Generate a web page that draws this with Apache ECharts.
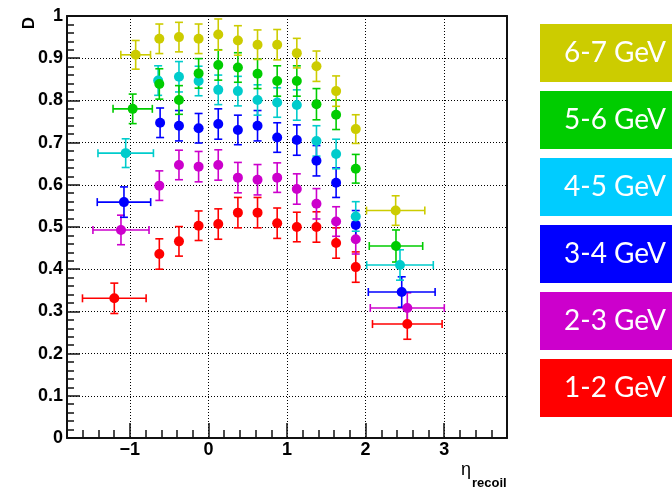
<!DOCTYPE html>
<html>
<head>
<meta charset="utf-8">
<script src="https://cdn.jsdelivr.net/npm/echarts@6/dist/echarts.min.js"></script>
<style>
  html, body { margin: 0; padding: 0; background: #ffffff; }
  #chart { width: 672px; height: 489px; }
</style>
</head>
<body>
<div id="chart"></div>
<script>
// Energy bins as listed in the key (top to bottom)
const binLabels = ['6-7 GeV', '5-6 GeV', '4-5 GeV', '3-4 GeV', '2-3 GeV', '1-2 GeV'];
const keyColors = ['#cccc00', '#00cc00', '#00ccff', '#0000ff', '#cc00cc', '#ff0000'];
const markColors = ['#cccc00', '#00cc00', '#00cccc', '#0000ff', '#cc00cc', '#ff0000'];

// Major tick positions along eta_recoil
const etaTicks = [-1, 0, 1, 2, 3];

// 6-7 GeV
const eta67 = [-0.926, -0.625, -0.375, -0.125, 0.125, 0.375, 0.625, 0.875, 1.125, 1.375, 1.625, 1.875, 2.383];
const D67 = [0.908, 0.946, 0.950, 0.946, 0.956, 0.942, 0.932, 0.932, 0.912, 0.881, 0.822, 0.732, 0.539];
const dD67 = [0.034, 0.035, 0.035, 0.035, 0.037, 0.035, 0.035, 0.036, 0.035, 0.036, 0.036, 0.034, 0.035];
const dEta67 = [0.189, 0, 0, 0, 0, 0, 0, 0, 0, 0, 0, 0, 0.371];

// 5-6 GeV
const eta56 = [-0.964, -0.625, -0.375, -0.125, 0.125, 0.375, 0.625, 0.875, 1.125, 1.375, 1.625, 1.875, 2.387];
const D56 = [0.780, 0.839, 0.801, 0.864, 0.884, 0.878, 0.863, 0.846, 0.846, 0.791, 0.766, 0.638, 0.455];
const dD56 = [0.035, 0.036, 0.034, 0.035, 0.036, 0.035, 0.035, 0.036, 0.036, 0.037, 0.035, 0.034, 0.038];
const dEta56 = [0.250, 0, 0, 0, 0, 0, 0, 0, 0, 0, 0, 0, 0.340];

// 4-5 GeV
const eta45 = [-1.053, -0.640, -0.375, -0.125, 0.125, 0.375, 0.625, 0.875, 1.125, 1.375, 1.625, 1.875, 2.438];
const D45 = [0.675, 0.847, 0.856, 0.846, 0.825, 0.822, 0.801, 0.795, 0.789, 0.704, 0.673, 0.525, 0.410];
const dD45 = [0.034, 0.035, 0.036, 0.035, 0.035, 0.035, 0.036, 0.035, 0.036, 0.036, 0.035, 0.035, 0.036];
const dEta45 = [0.353, 0, 0, 0, 0, 0, 0, 0, 0, 0, 0, 0, 0.424];

// 3-4 GeV
const eta34 = [-1.075, -0.615, -0.375, -0.125, 0.125, 0.375, 0.625, 0.875, 1.125, 1.375, 1.625, 1.875, 2.460];
const D34 = [0.559, 0.747, 0.740, 0.734, 0.744, 0.730, 0.740, 0.712, 0.706, 0.657, 0.605, 0.505, 0.346];
const dD34 = [0.036, 0.035, 0.036, 0.035, 0.036, 0.035, 0.036, 0.035, 0.036, 0.036, 0.035, 0.034, 0.036];
const dEta34 = [0.340, 0, 0, 0, 0, 0, 0, 0, 0, 0, 0, 0, 0.425];

// 2-3 GeV
const eta23 = [-1.113, -0.625, -0.375, -0.125, 0.125, 0.375, 0.625, 0.875, 1.125, 1.375, 1.625, 1.875, 2.531];
const D23 = [0.493, 0.598, 0.647, 0.643, 0.647, 0.617, 0.612, 0.617, 0.590, 0.555, 0.513, 0.471, 0.308];
const dD23 = [0.035, 0.035, 0.035, 0.036, 0.036, 0.036, 0.036, 0.035, 0.036, 0.036, 0.035, 0.035, 0.036];
const dEta23 = [0.357, 0, 0, 0, 0, 0, 0, 0, 0, 0, 0, 0, 0.471];

// 1-2 GeV
const eta12 = [-1.198, -0.625, -0.375, -0.125, 0.125, 0.375, 0.625, 0.875, 1.125, 1.375, 1.625, 1.875, 2.531];
const D12 = [0.331, 0.436, 0.466, 0.503, 0.507, 0.534, 0.534, 0.509, 0.500, 0.500, 0.462, 0.405, 0.270];
const dD12 = [0.036, 0.036, 0.035, 0.035, 0.036, 0.036, 0.036, 0.036, 0.035, 0.036, 0.036, 0.036, 0.036];
const dEta12 = [0.405, 0, 0, 0, 0, 0, 0, 0, 0, 0, 0, 0, 0.443];

// Drawing order: lowest energy first, so higher bins sit on top
const bins = [
  { k: 5, eta: eta12, D: D12, dD: dD12, dEta: dEta12 },
  { k: 4, eta: eta23, D: D23, dD: dD23, dEta: dEta23 },
  { k: 3, eta: eta34, D: D34, dD: dD34, dEta: dEta34 },
  { k: 2, eta: eta45, D: D45, dD: dD45, dEta: dEta45 },
  { k: 1, eta: eta56, D: D56, dD: dD56, dEta: dEta56 },
  { k: 0, eta: eta67, D: D67, dD: dD67, dEta: dEta67 }
];

const FRAME = '#111111';
const AXIS_FONT = '"Liberation Sans", Arial, Helvetica, sans-serif';

// Error bars with end caps: vertical (dD) and, where given, horizontal (dEta)
function errorBars(color) {
  return function (params, api) {
    const x = api.value(0), y = api.value(1), dy = api.value(2), dx = api.value(3);
    const c = api.coord([x, y]);
    const hi = api.coord([x, y + dy]);
    const lo = api.coord([x, y - dy]);
    const cap = 4;
    const st = { stroke: color, lineWidth: 1.6 };
    const kids = [
      { type: 'line', shape: { x1: c[0], y1: hi[1], x2: c[0], y2: lo[1] }, style: st },
      { type: 'line', shape: { x1: c[0] - cap, y1: hi[1], x2: c[0] + cap, y2: hi[1] }, style: st },
      { type: 'line', shape: { x1: c[0] - cap, y1: lo[1], x2: c[0] + cap, y2: lo[1] }, style: st }
    ];
    if (dx > 0) {
      const l = api.coord([x - dx, y]);
      const r = api.coord([x + dx, y]);
      kids.push(
        { type: 'line', shape: { x1: l[0], y1: c[1], x2: r[0], y2: c[1] }, style: st },
        { type: 'line', shape: { x1: l[0], y1: c[1] - cap, x2: l[0], y2: c[1] + cap }, style: st },
        { type: 'line', shape: { x1: r[0], y1: c[1] - cap, x2: r[0], y2: c[1] + cap }, style: st }
      );
    }
    return { type: 'group', children: kids };
  };
}

const series = [];
bins.forEach(function (b) {
  const col = markColors[b.k];
  const rows = b.eta.map(function (e, i) { return [e, b.D[i], b.dD[i], b.dEta[i]]; });
  series.push({
    type: 'custom',
    name: binLabels[b.k] + ' errors',
    xAxisIndex: 0, yAxisIndex: 0,
    silent: true,
    renderItem: errorBars(col),
    encode: { x: 0, y: 1 },
    data: rows
  });
  series.push({
    type: 'scatter',
    name: binLabels[b.k],
    xAxisIndex: 0, yAxisIndex: 0,
    silent: true,
    symbol: 'circle',
    symbolSize: 10,
    itemStyle: { color: col, opacity: 1 },
    data: b.eta.map(function (e, i) { return [e, b.D[i]]; })
  });
});

// Key: coloured boxes with white labels
const keyGraphics = [];
binLabels.forEach(function (lab, i) {
  const top = 24 + i * 67;
  keyGraphics.push({
    type: 'rect',
    shape: { x: 540, y: top, width: 132, height: 58 },
    style: { fill: keyColors[i] },
    silent: true
  });
  keyGraphics.push({
    type: 'text',
    x: 564, y: top + 29,
    style: {
      text: lab, fill: '#ffffff',
      fontFamily: 'Lato, "Open Sans", sans-serif', fontSize: 28,
      align: 'left', verticalAlign: 'middle'
    },
    silent: true
  });
});

const gridLine = { show: true, lineStyle: { color: '#000000', width: 1, type: [1, 2] } };

const option = {
  backgroundColor: '#ffffff',
  animation: false,
  grid: { left: 67, top: 16, right: 165, bottom: 51 },
  xAxis: [
    {
      // minor ticks every 0.2
      type: 'value', min: -1.8, max: 3.8, interval: 0.2, position: 'bottom',
      axisLine: { show: true, onZero: false, lineStyle: { color: FRAME, width: 2 } },
      axisTick: { show: true, inside: true, length: 8, lineStyle: { color: FRAME, width: 1.5 } },
      axisLabel: { show: false },
      splitLine: { show: false }
    },
    {
      // major ticks, labels and grid at integer eta
      type: 'value', min: -1.8, max: 3.8, position: 'bottom',
      axisLine: { show: false, onZero: false },
      axisTick: { show: true, customValues: etaTicks, inside: true, length: 15, lineStyle: { color: FRAME, width: 1.5 } },
      axisLabel: {
        show: true, customValues: etaTicks, margin: 3,
        color: '#000000', fontFamily: AXIS_FONT, fontWeight: 'bold', fontSize: 18,
        formatter: function (v) { return v < 0 ? '\u2212' + Math.abs(v) : String(v); }
      },
      splitLine: gridLine
    },
    {
      // upper frame edge
      type: 'value', min: -1.8, max: 3.8, position: 'top',
      axisLine: { show: true, onZero: false, lineStyle: { color: FRAME, width: 2 } },
      axisTick: { show: false }, axisLabel: { show: false }, splitLine: { show: false }
    }
  ],
  yAxis: [
    {
      type: 'value', min: 0, max: 1, interval: 0.1, position: 'left',
      axisLine: { show: true, onZero: false, lineStyle: { color: FRAME, width: 2 } },
      axisTick: { show: true, inside: true, length: 13, lineStyle: { color: FRAME, width: 1.5 } },
      minorTick: { show: true, splitNumber: 5, length: 7, lineStyle: { color: FRAME, width: 1.5 } },
      axisLabel: {
        show: true, margin: 4, color: '#000000',
        fontFamily: AXIS_FONT, fontWeight: 'bold', fontSize: 18
      },
      splitLine: gridLine
    },
    {
      // right frame edge
      type: 'value', min: 0, max: 1, position: 'right',
      axisLine: { show: true, onZero: false, lineStyle: { color: FRAME, width: 2 } },
      axisTick: { show: false }, axisLabel: { show: false }, splitLine: { show: false }
    }
  ],
  graphic: [
    {
      type: 'text', x: 29, y: 23, rotation: Math.PI / 2,
      style: {
        text: 'D', fill: '#000000',
        fontFamily: AXIS_FONT, fontWeight: 'bold', fontSize: 17,
        align: 'center', verticalAlign: 'middle'
      },
      silent: true
    },
    {
      type: 'text', x: 461, y: 479,
      style: {
        text: '\u03b7', fill: '#000000',
        fontFamily: AXIS_FONT, fontSize: 18,
        align: 'left', verticalAlign: 'bottom'
      },
      silent: true
    },
    {
      type: 'text', x: 472, y: 490,
      style: {
        text: 'recoil', fill: '#000000',
        fontFamily: AXIS_FONT, fontWeight: 'bold', fontSize: 13,
        align: 'left', verticalAlign: 'bottom'
      },
      silent: true
    }
  ].concat(keyGraphics),
  series: series
};

const chart = echarts.init(document.getElementById('chart'), null, { renderer: 'canvas' });
chart.setOption(option);
</script>
</body>
</html>
